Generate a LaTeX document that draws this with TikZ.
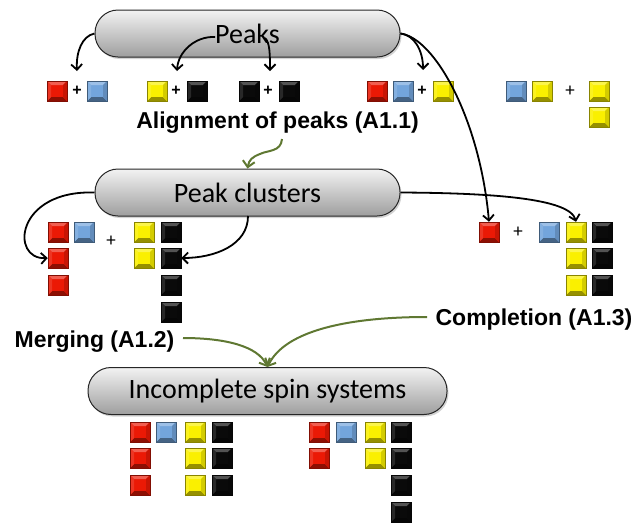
\documentclass[tikz,border=0pt]{standalone}
\usepackage{fontspec}
\setmainfont{Carlito}
\newfontfamily\labfont{Liberation Sans}
\usetikzlibrary{arrows.meta,shadows}
\definecolor{sqred}{RGB}{235,25,5}
\definecolor{sqblue}{RGB}{115,165,220}
\definecolor{sqyel}{RGB}{250,240,0}
\definecolor{sqblk}{RGB}{10,10,10}
\definecolor{olivegreen}{RGB}{95,120,50}
\tikzset{
  sq/.style={minimum size=20pt, inner sep=0pt, fill=#1, draw=#1!55!black, line width=0.5pt,
    drop shadow={shadow xshift=0.8pt, shadow yshift=-1.2pt, opacity=0.35},
    path picture={
      \fill[#1!70!white] (path picture bounding box.north west) -- (path picture bounding box.north east)
        -- ([shift={(-4pt,-4pt)}]path picture bounding box.north east)
        -- ([shift={(4pt,-4pt)}]path picture bounding box.north west) -- cycle;
      \fill[#1!60!black] (path picture bounding box.south west) -- (path picture bounding box.south east)
        -- ([shift={(-4pt,4pt)}]path picture bounding box.south east)
        -- ([shift={(4pt,4pt)}]path picture bounding box.south west) -- cycle;
      \fill[#1!85!black] (path picture bounding box.north east) -- (path picture bounding box.south east)
        -- ([shift={(-4pt,4pt)}]path picture bounding box.south east)
        -- ([shift={(-4pt,-4pt)}]path picture bounding box.north east) -- cycle;
      \fill[#1!88!white] (path picture bounding box.north west) -- (path picture bounding box.south west)
        -- ([shift={(4pt,4pt)}]path picture bounding box.south west)
        -- ([shift={(4pt,-4pt)}]path picture bounding box.north west) -- cycle;
    }},
  pill/.style={draw=black!85, line width=1pt, rounded corners=23pt, top color=black!5, bottom color=black!38,
    drop shadow={shadow xshift=1.5pt, shadow yshift=-2pt, opacity=0.35},
    font=\fontsize{28}{30}\selectfont, inner sep=0pt, minimum height=47pt},
  plusb/.style={font=\labfont\bfseries\fontsize{16}{16}\selectfont, inner sep=0pt},
  plusl/.style={font=\fontsize{19}{19}\selectfont, inner sep=0pt},
  lab/.style={font=\labfont\bfseries\fontsize{23}{25}\selectfont, inner sep=4pt, anchor=base},
  arr/.style={line width=1.8pt, -{Straight Barb[length=5.5pt,width=11pt]}},
  garr/.style={olivegreen, line width=2pt, -{Straight Barb[length=6pt,width=12pt]}}
}
\begin{document}
\begin{tikzpicture}[x=1pt,y=-1pt]
\useasboundingbox (0,0) rectangle (634,523);

% boxes
\node[pill, minimum width=305pt] (peaks) at (247.5,33.5) {Peaks};
\node[pill, minimum width=305pt] (pc) at (247.5,192.5) {Peak clusters};
\node[pill, minimum width=359pt] (isys) at (267.5,391) {Incomplete spin systems};

% labels
\node[lab] (al) at (277.5,128) {Alignment of peaks (A1.1)};
\node[lab] (merge) at (94.5,347) {Merging (A1.2)};
\node[lab] (compl) at (534,325) {Completion (A1.3)};

% row 1
\node[sq=sqred] (a1) at (57,91) {};
\node[plusb] (ap1) at (77,91) {+};
\node[sq=sqblue] (a2) at (97,91) {};
\node[sq=sqyel] (b1) at (157,91) {};
\node[plusb] (bp) at (176,91) {+};
\node[sq=sqblk] (b2) at (197,91) {};
\node[sq=sqblk] (c1) at (249,91) {};
\node[plusb] (cp) at (268,91) {+};
\node[sq=sqblk] (c2) at (289,91) {};
\node[sq=sqred] (d1) at (377,91) {};
\node[sq=sqblue] (d2) at (403,91) {};
\node[plusb] (dp) at (422,91) {+};
\node[sq=sqyel] (d3) at (443,91) {};
\node[sq=sqblue] (e1) at (516,91) {};
\node[sq=sqyel] (e2) at (542,91) {};
\node[plusl] (ep) at (570,91) {+};
\node[sq=sqyel] (e3) at (599,91) {};
\node[sq=sqyel] (e4) at (599,117) {};

% peak clusters group
\node[sq=sqred] (f1) at (58,232) {};
\node[sq=sqred] (f2) at (58,258) {};
\node[sq=sqred] (f3) at (58,285) {};
\node[sq=sqblue] (f4) at (84,232) {};
\node[plusl] (fp) at (111,241) {+};
\node[sq=sqyel] (g1) at (144,232) {};
\node[sq=sqyel] (g2) at (144,258) {};
\node[sq=sqblk] (h1) at (171,232) {};
\node[sq=sqblk] (h2) at (171,258) {};
\node[sq=sqblk] (h3) at (171,285) {};
\node[sq=sqblk] (h4) at (171,312) {};

% right group
\node[sq=sqred] (k1) at (489,232) {};
\node[plusl] (kp) at (518,232) {+};
\node[sq=sqblue] (k2) at (549,232) {};
\node[sq=sqyel] (m1) at (576,232) {};
\node[sq=sqyel] (m2) at (576,258) {};
\node[sq=sqyel] (m3) at (576,285) {};
\node[sq=sqblk] (n1) at (602,232) {};
\node[sq=sqblk] (n2) at (602,258) {};
\node[sq=sqblk] (n3) at (602,285) {};

% bottom left
\node[sq=sqred] (p1) at (140,432) {};
\node[sq=sqred] (p2) at (140,458) {};
\node[sq=sqred] (p3) at (140,485) {};
\node[sq=sqblue] (p4) at (166,432) {};
\node[sq=sqyel] (q1) at (195,432) {};
\node[sq=sqyel] (q2) at (195,458) {};
\node[sq=sqyel] (q3) at (195,485) {};
\node[sq=sqblk] (r1) at (222,432) {};
\node[sq=sqblk] (r2) at (222,458) {};
\node[sq=sqblk] (r3) at (222,485) {};
% bottom right
\node[sq=sqred] (s1) at (319,432) {};
\node[sq=sqred] (s2) at (319,458) {};
\node[sq=sqblue] (s3) at (346,432) {};
\node[sq=sqyel] (t1) at (375,432) {};
\node[sq=sqyel] (t2) at (375,458) {};
\node[sq=sqblk] (u1) at (401,432) {};
\node[sq=sqblk] (u2) at (401,458) {};
\node[sq=sqblk] (u3) at (401,485) {};
\node[sq=sqblk] (u4) at (401,512) {};

% free ends
\coordinate (tA) at (77,71);
\coordinate (sB) at (215,37);
\coordinate (tB) at (177,71);
\coordinate (sC) at (265,38);
\coordinate (tC) at (270,71);
\coordinate (tD) at (423,70);
\coordinate (sH) at (248,216);
\coordinate (gs) at (282,139);
\coordinate (gm) at (260,154);
\coordinate (ms) at (183,338);
\coordinate (cs) at (427,317);

% black arrows
\draw[arr] (peaks.west) .. controls (82,36) and (76,52) .. (tA);
\draw[arr] (sB) .. controls (195,36) and (178,52) .. (tB);
\draw[arr] (sC) .. controls (270,42) and (270,56) .. (tC);
\draw[arr] (peaks.east) .. controls (414,35) and (423,50) .. (tD);
\draw[arr] (peaks.east) .. controls (435,38) and (480,120) .. (k1.north);
\draw[arr] (pc.east) .. controls (490,193) and (570,198) .. (m1.north);
\draw[arr] (pc.west) .. controls (15,190) and (10,260) .. (f2.west);
\draw[arr] (sH) .. controls (248,245) and (215,258) .. (h2.east);

% green arrows
\draw[garr] (gs) .. controls (281,152) and (268,150) .. (gm) .. controls (252,157) and (249,160) .. (pc.north);
\draw[garr] (ms) .. controls (225,338) and (258,346) .. (isys.north);
\draw[garr] (cs) .. controls (350,317) and (285,330) .. (isys.north);
\end{tikzpicture}
\end{document}
